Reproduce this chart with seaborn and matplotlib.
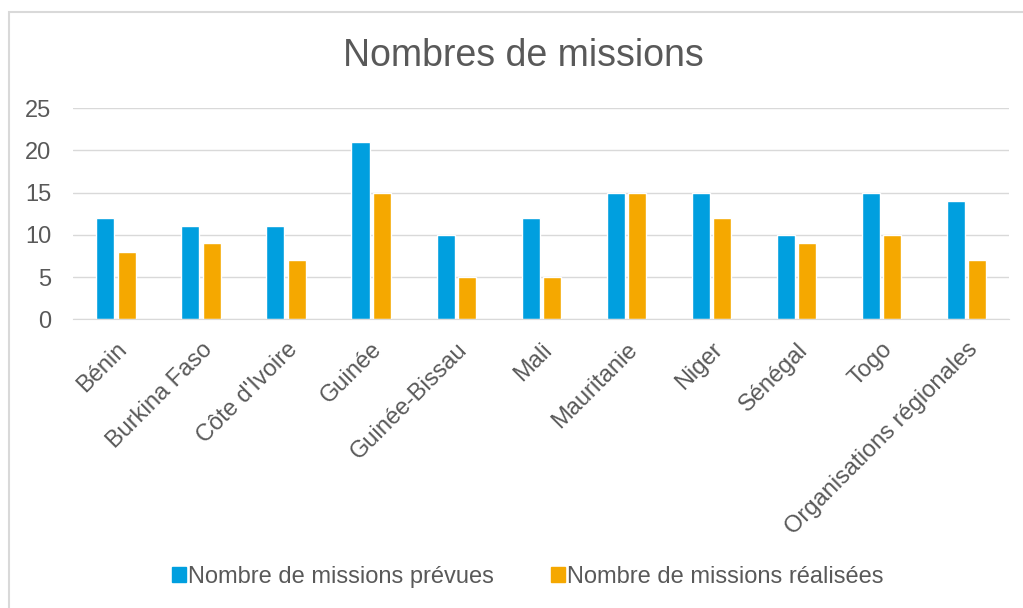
import pandas as pd
import matplotlib.pyplot as plt
import seaborn as sns
from matplotlib.patches import Rectangle

# Données
pays = ["Bénin", "Burkina Faso", "Côte d'Ivoire", "Guinée", "Guinée-Bissau", "Mali",
        "Mauritanie", "Niger", "Sénégal", "Togo", "Organisations régionales"]
prevues = [12, 11, 11, 21, 10, 12, 15, 15, 10, 15, 14]
realisees = [8, 9, 7, 15, 5, 5, 15, 12, 9, 10, 7]
series = ["Nombre de missions prévues", "Nombre de missions réalisées"]
couleurs = ["#009FDF", "#F5A800"]

df = pd.DataFrame({"Pays": pays, series[0]: prevues, series[1]: realisees})
df_long = df.melt(id_vars="Pays", var_name="Série", value_name="Missions")

sns.set_style("white")
plt.rcParams["font.family"] = ["Liberation Sans", "DejaVu Sans"]
gris = "#595959"

fig = plt.figure(figsize=(10.23, 6.08), dpi=100)
ax = fig.add_axes([0.0718, 0.475, 0.9145, 0.347])

sns.barplot(data=df_long, x="Pays", y="Missions", hue="Série", palette=couleurs,
            saturation=1, width=0.5, gap=0.15, ax=ax, legend=False)

ax.set_ylim(0, 25)
ax.set_yticks(range(0, 26, 5))
ax.grid(axis="y", color="#D9D9D9", linewidth=1)
ax.set_axisbelow(True)
for s in ["top", "right", "left"]:
    ax.spines[s].set_visible(False)
ax.spines["bottom"].set_color("#D9D9D9")
ax.set_xlabel("")
ax.set_ylabel("")
ax.tick_params(axis="both", length=0, labelsize=17, colors=gris)
ax.tick_params(axis="y", pad=16)
ax.tick_params(axis="x", pad=14)
plt.setp(ax.get_xticklabels(), rotation=45, ha="right", va="top", rotation_mode="anchor")

fig.suptitle("Nombres de missions", fontsize=27, color=gris, x=0.512, y=0.937)

handles = [Rectangle((0, 0), 1, 1, color=c) for c in couleurs]
fig.legend(handles, series, loc="center", bbox_to_anchor=(0.516, 0.051), ncol=2,
           frameon=False, fontsize=17, labelcolor=gris, handlelength=0.6,
           handleheight=0.6, handletextpad=0.1, columnspacing=2.4)

# cadre du graphique
fig.patches.append(Rectangle((0.0085, -0.05), 1.1, 1.03, transform=fig.transFigure,
                             fill=False, edgecolor="#D9D9D9", linewidth=1.5))

fig.savefig("out.png", dpi=100)
